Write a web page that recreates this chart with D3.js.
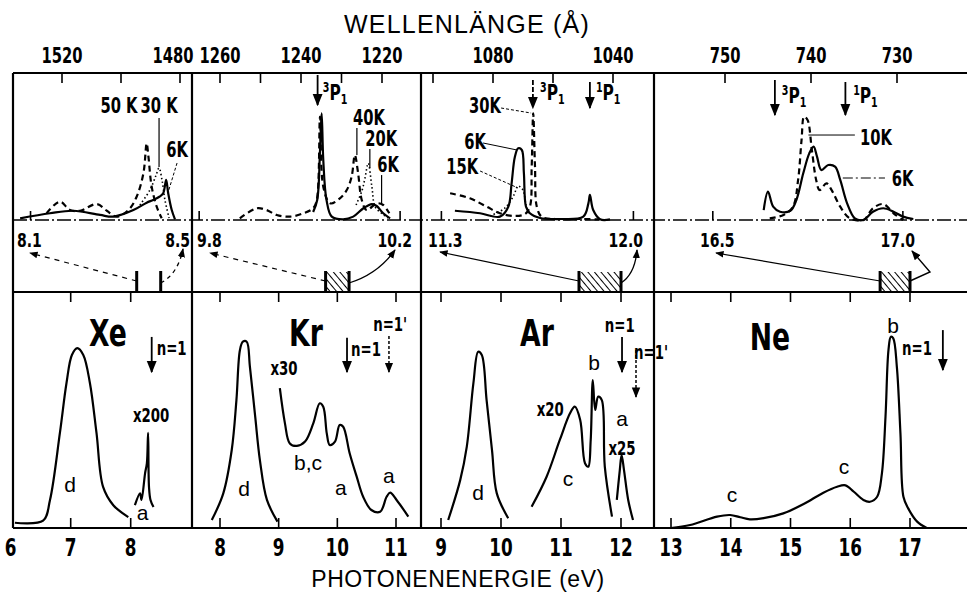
<!DOCTYPE html>
<html>
<head>
<meta charset="utf-8">
<script src="https://cdn.jsdelivr.net/npm/d3@7"></script>
<style>
body { margin: 0; background: #fff; }
svg { display: block; }
.cond { font-family: "Liberation Sans Narrow", "DejaVu Sans Condensed", "Arial Narrow", sans-serif; font-weight: bold; }
.plain { font-family: "Liberation Sans", "DejaVu Sans", sans-serif; }
</style>
</head>
<body>
<svg id="chart" width="967" height="593"></svg>
<script>
// ---- data: bottom panels, photon energy (eV) vs relative intensity ----
const xeD = [[6.07,0.023],[6.54,0.032],[6.655,0.123],[6.82,0.417],[6.93,0.636],[7.02,0.759],[7.11,0.789],[7.21,0.759],[7.32,0.636],[7.43,0.417],[7.54,0.18],[7.71,0.10],[7.96,0.048]];
const xeA = [[8.07,0.10],[8.155,0.152],[8.18,0.123],[8.24,0.241],[8.27,0.285],[8.29,0.417],[8.305,0.18],[8.33,0.123],[8.38,0.092]];
const krD = [[7.86,0.035],[8.056,0.152],[8.2,0.342],[8.28,0.561],[8.34,0.781],[8.39,0.817],[8.455,0.817],[8.51,0.707],[8.6,0.488],[8.68,0.298],[8.8,0.123],[8.98,0.028]];
const krX30 = [[9.02,0.613],[9.107,0.459],[9.19,0.371],[9.31,0.36],[9.45,0.379],[9.59,0.459],[9.70,0.547],[9.76,0.532],[9.82,0.415],[9.87,0.364],[9.96,0.379],[10.04,0.452],[10.1,0.444],[10.21,0.328],[10.33,0.225],[10.44,0.137],[10.58,0.079],[10.73,0.071],[10.84,0.137],[10.9,0.155],[11.01,0.123],[11.21,0.05]];
const arD = [[9.12,0.035],[9.32,0.21],[9.43,0.357],[9.54,0.635],[9.62,0.773],[9.68,0.759],[9.76,0.561],[9.85,0.342],[9.93,0.152],[10.12,0.043]];
const arX20 = [[10.51,0.093],[10.76,0.225],[10.98,0.386],[11.15,0.503],[11.23,0.532],[11.32,0.474],[11.4,0.284],[11.455,0.269],[11.495,0.386],[11.53,0.649],[11.57,0.518],[11.62,0.576],[11.68,0.561],[11.73,0.269],[11.85,0.05]];
const arX25 = [[11.93,0.123],[11.98,0.254],[12.01,0.32],[12.05,0.254],[12.12,0.123],[12.2,0.035]];
const neBC = [[13.0,0.0],[13.32,0.013],[13.77,0.05],[13.99,0.057],[14.16,0.047],[14.32,0.038],[14.55,0.043],[14.88,0.064],[15.22,0.105],[15.55,0.155],[15.78,0.181],[15.92,0.187],[16.06,0.159],[16.22,0.123],[16.33,0.115],[16.45,0.137],[16.53,0.24],[16.59,0.488],[16.64,0.781],[16.68,0.839],[16.72,0.832],[16.78,0.707],[16.84,0.415],[16.89,0.137],[16.97,0.086],[17.12,0.028],[17.28,0.0]];

// ---- data: top panels, wavelength (Å) vs relative intensity ----
const xe50K = [[1525.2,0.048],[1520.7,0.131],[1517.3,0.071],[1513.9,0.066],[1508.2,0.114],[1504.8,0.066],[1501.5,0.024],[1497.5,0.071],[1494.7,0.166],[1492.4,0.334],[1491.3,0.548],[1490.7,0.452],[1489.6,0.238],[1487.9,0.095],[1486.2,0.012]];
const xe30K = [[1493.6,0.107],[1490.2,0.214],[1488.1,0.321],[1487.1,0.371],[1486.1,0.286],[1485.1,0.143],[1483.7,0.014]];
const xe6K = [[1534.2,0.012],[1524.1,0.048],[1516.2,0.066],[1507.1,0.036],[1502.6,0.024],[1495.8,0.071],[1491.3,0.124],[1489.1,0.143],[1487.0,0.166],[1485.7,0.191],[1484.7,0.286],[1484.0,0.191],[1482.8,0.071],[1481.7,0.005]];
const kr40K = [[1255.1,0.012],[1250.9,0.084],[1248.5,0.071],[1246.0,0.036],[1242.7,0.024],[1239.4,0.048],[1237.0,0.084],[1236.1,0.143],[1235.3,0.738],[1234.5,0.238],[1232.8,0.119],[1230.4,0.155],[1228.7,0.214],[1227.5,0.309],[1226.7,0.464],[1225.9,0.334],[1225.0,0.143],[1223.8,0.071],[1221.3,0.119],[1219.7,0.107],[1218.2,0.048]];
const kr20K = [[1226.4,0.107],[1224.9,0.214],[1224.2,0.3],[1223.4,0.405],[1222.5,0.238],[1221.7,0.095],[1220.1,0.048],[1218.5,0.014]];
const kr6K = [[1237.0,0.057],[1236.0,0.143],[1235.3,0.5],[1234.9,0.762],[1234.5,0.429],[1233.7,0.143],[1232.4,0.024],[1229.6,0.005],[1227.1,0.024],[1224.6,0.084],[1222.5,0.114],[1221.3,0.1],[1219.7,0.048],[1218.0,0.012]];
const ar30K = [[1094.3,0.191],[1087.7,0.155],[1082.1,0.095],[1077.7,0.048],[1072.7,0.029],[1069.3,0.043],[1067.7,0.095],[1067.1,0.381],[1066.6,0.762],[1066.0,0.381],[1065.4,0.095],[1063.8,0.024],[1059.3,0.007],[1051.0,0.007],[1044.3,0.004]];
const ar15K = [[1081,0.029],[1076,0.086],[1073,0.179],[1071.7,0.243],[1070,0.214],[1069,0.107],[1067.7,0.036]];
const ar6K = [[1092.7,0.066],[1084.3,0.048],[1077.7,0.024],[1074.9,0.095],[1073.8,0.262],[1072.7,0.452],[1071.6,0.512],[1070.4,0.5],[1069.7,0.334],[1069.0,0.095],[1067.7,0.048],[1064.3,0.014],[1057.7,0.007],[1049.9,0.024],[1048.2,0.119],[1047.7,0.179],[1046.6,0.071],[1044.3,0.005],[1041.0,0.004]];
const ne10K = [[744.8,0.012],[743.2,0.036],[742.1,0.095],[741.5,0.286],[741.1,0.571],[740.8,0.738],[740.4,0.714],[739.9,0.5],[739.4,0.286],[739.0,0.214],[738.2,0.262],[737.6,0.214],[736.6,0.095],[735.5,0.012],[733.9,0.0],[732.8,0.084],[731.6,0.114],[730.4,0.048],[729.3,0.0]];
const ne6K = [[745.5,0.071],[745.0,0.202],[744.4,0.095],[743.6,0.059],[742.4,0.066],[741.7,0.143],[740.9,0.334],[740.2,0.476],[739.7,0.524],[739.3,0.452],[738.8,0.357],[738.0,0.393],[737.2,0.381],[736.6,0.286],[735.8,0.119],[734.9,0.012],[733.9,0.0],[732.8,0.059],[731.6,0.084],[730.4,0.059],[729.3,0.024],[728.1,0.007]];

// ---- ticks and zoom ranges ----
const xeEnergyTicks = [6, 7, 8], krEnergyTicks = [8, 9, 10, 11], arEnergyTicks = [9, 10, 11, 12], neEnergyTicks = [13, 14, 15, 16, 17];
const xeWaveTicks = [1520, 1500, 1480], krWaveTicks = [1260, 1250, 1240, 1230, 1220], arWaveTicks = [1100, 1080, 1060, 1040], neWaveTicks = [750, 740, 730];
const xeWaveLabels = [1520, 1480], krWaveLabels = [1260, 1240, 1220], arWaveLabels = [1080, 1040], neWaveLabels = [750, 740, 730];
const xeZoom = [8.1, 8.5], krZoom = [9.8, 10.2], arZoom = [11.3, 12.0], neZoom = [16.5, 17.0];
const zoomLabels = [["8.1", "8.5"], ["9.8", "10.2"], ["11.3", "12.0"], ["16.5", "17.0"]];

const svg = d3.select("#chart");
const L = 13, R = 967, T = 73, MID = 220, STRIP = 292, BASE = 528;
const HC = 12398.4; // eV * Angstrom
const NARROW = 0.78; // squeeze for the condensed bold lettering

const yTop = d3.scaleLinear().domain([0, 1]).range([MID, 80]);
const yBot = d3.scaleLinear().domain([0, 1]).range([BASE, 300]);

const defs = svg.append("defs");
defs.append("marker").attr("id", "head").attr("viewBox", "0 0 10 10")
  .attr("refX", 9).attr("refY", 5).attr("markerWidth", 7).attr("markerHeight", 7)
  .attr("orient", "auto-start-reverse")
  .append("path").attr("d", "M0,1 L10,5 L0,9 Z").attr("fill", "#000");
const pat = defs.append("pattern").attr("id", "hatch").attr("patternUnits", "userSpaceOnUse")
  .attr("width", 5).attr("height", 5).attr("patternTransform", "rotate(-40)");
pat.append("line").attr("x1", 0).attr("y1", 0).attr("x2", 0).attr("y2", 5)
  .attr("stroke", "#000").attr("stroke-width", 2);

const panels = [
  { gas: "Xe", x0: L, x1: 192,
    ex: d3.scaleLinear().domain([7, 8]).range([70.7, 130.7]),
    wx: d3.scaleLinear().domain([1520, 1480]).range([62, 180]),
    eTicks: xeEnergyTicks, wTicks: xeWaveTicks, wLabels: xeWaveLabels, zoom: xeZoom,
    bottom: [xeD, xeA],
    top: [{ d: xe6K }, { d: xe50K, dash: "6,4" }, { d: xe30K, dash: "1.5,2.5", w: 1.6 }],
    strip: { lx: 17, rx: 190, le: [30, 253], re: [183, 249], hatch: false, faint: true } },
  { gas: "Kr", x0: 192, x1: 421,
    ex: d3.scaleLinear().domain([8, 11]).range([220, 396]),
    wx: d3.scaleLinear().domain([1260, 1220]).range([220, 382]),
    eTicks: krEnergyTicks, wTicks: krWaveTicks, wLabels: krWaveLabels, zoom: krZoom,
    bottom: [krD, krX30],
    top: [{ d: kr40K, dash: "6,4" }, { d: kr20K, dash: "1.5,2.5", w: 1.6 }, { d: kr6K }],
    strip: { lx: 197, rx: 412, le: [210, 253], re: [395, 250], hatch: true, faint: true } },
  { gas: "Ar", x0: 421, x1: 654,
    ex: d3.scaleLinear().domain([9, 12]).range([441, 621]),
    wx: d3.scaleLinear().domain([1080, 1040]).range([493, 613]),
    eTicks: arEnergyTicks, wTicks: arWaveTicks, wLabels: arWaveLabels, zoom: arZoom,
    bottom: [arD, arX20, arX25],
    top: [{ d: ar30K, dash: "6,4" }, { d: ar15K, dash: "1.5,2.5", w: 1.6 }, { d: ar6K }],
    strip: { lx: 428, rx: 643, le: [440, 252], re: [637, 250], hatch: true } },
  { gas: "Ne", x0: 654, x1: R,
    ex: d3.scaleLinear().domain([13, 17]).range([671, 910]),
    wx: d3.scaleLinear().domain([750, 730]).range([725, 897]),
    eTicks: neEnergyTicks, wTicks: neWaveTicks, wLabels: neWaveLabels, zoom: neZoom,
    bottom: [neBC],
    top: [{ d: ne10K, dash: "6,4" }, { d: ne6K }],
    strip: { lx: 700, rx: 915, le: [716, 253], re: [912, 251], elbow: [930, 272], hatch: true } }
];

const curve = d3.curveCatmullRom.alpha(0.5);

function label(x, y, s, size, anchor, cls) {
  const t = svg.append("text").attr("class", cls || "cond")
    .attr("font-size", size).attr("text-anchor", anchor || "middle").text(s);
  if ((cls || "cond") === "cond") {
    t.attr("x", 0).attr("y", 0).attr("transform", `translate(${x},${y}) scale(${NARROW},1)`);
  } else {
    t.attr("x", x).attr("y", y);
  }
  return t;
}
function seg(x1, y1, x2, y2, w, dash, arrow) {
  const l = svg.append("line").attr("x1", x1).attr("y1", y1).attr("x2", x2).attr("y2", y2)
    .attr("stroke", "#000").attr("stroke-width", w || 1.2);
  if (dash) l.attr("stroke-dasharray", dash);
  if (arrow) l.attr("marker-end", "url(#head)");
  return l;
}
function term(x, y, level, size) {
  // ^3P_1 style spectroscopic term
  const t = svg.append("text").attr("class", "cond").attr("x", 0).attr("y", 0)
    .attr("transform", `translate(${x},${y}) scale(${NARROW},1)`).attr("font-size", size);
  t.append("tspan").attr("font-size", size * 0.62).attr("dy", -size * 0.38).text(level);
  t.append("tspan").attr("dy", size * 0.38).text("P");
  t.append("tspan").attr("font-size", size * 0.62).attr("dy", size * 0.2).text("1");
}

panels.forEach((p, idx) => {
  // bottom spectra
  const lb = d3.line().x(d => p.ex(d[0])).y(d => yBot(d[1])).curve(curve);
  p.bottom.forEach(d => {
    svg.append("path").attr("d", lb(d)).attr("fill", "none")
      .attr("stroke", "#000").attr("stroke-width", 2.2);
  });
  // top spectra
  const lt = d3.line().x(d => p.wx(d[0])).y(d => yTop(d[1])).curve(curve);
  p.top.forEach(c => {
    const path = svg.append("path").attr("d", lt(c.d)).attr("fill", "none")
      .attr("stroke", "#000").attr("stroke-width", c.w || 2.2);
    if (c.dash) path.attr("stroke-dasharray", c.dash);
  });

  // energy ticks: bottom axis (up) and strip baseline (down)
  p.eTicks.forEach(v => {
    const x = p.ex(v);
    if (x > p.x0 + 2) {
      seg(x, BASE, x, BASE - 10, 1.6);
      seg(x, STRIP, x, STRIP + 10, 1.6);
    }
    label(x, 556, String(v), 24);
  });
  // wavelength ticks on top border; labels kept clear of the dividers
  p.wTicks.forEach(v => seg(p.wx(v), T, p.wx(v), T + 10, 1.6));
  p.wLabels.forEach(v => label(Math.max(p.x0 + 22, Math.min(p.x1 - 19, p.wx(v))), 63, String(v), 21));

  // zoom window marks on top baseline
  p.zoom.forEach(e => {
    const x = p.wx(HC / e);
    if (x > p.x0 + 2 && x < p.x1 - 2) seg(x, MID, x, MID - 9, 1.6);
  });

  // zoom window on the strip
  const xa = p.ex(p.zoom[0]), xb = p.ex(p.zoom[1]);
  if (p.strip.hatch) {
    svg.append("rect").attr("x", xa).attr("y", STRIP - 20).attr("width", xb - xa).attr("height", 20)
      .attr("fill", "url(#hatch)");
  }
  seg(xa, STRIP - 21, xa, STRIP, 3);
  seg(xb, STRIP - 21, xb, STRIP, 3);
  label(p.strip.lx, 247, zoomLabels[idx][0], 20, "start");
  label(p.strip.rx, 247, zoomLabels[idx][1], 20, "end");
  const dash = p.strip.faint ? "5,5" : null;
  seg(xa, STRIP - 11, p.strip.le[0], p.strip.le[1], 1.2, dash, true);
  if (p.strip.elbow) {
    svg.append("path")
      .attr("d", `M${xb},${STRIP - 11}L${p.strip.elbow[0]},${p.strip.elbow[1]}L${p.strip.re[0]},${p.strip.re[1]}`)
      .attr("fill", "none").attr("stroke", "#000").attr("stroke-width", 1.4).attr("marker-end", "url(#head)");
  } else {
    svg.append("path")
      .attr("d", `M${xb},${STRIP - 9}Q${(xb + p.strip.re[0]) / 2 + 6},${STRIP - 18} ${p.strip.re[0]},${p.strip.re[1]}`)
      .attr("fill", "none").attr("stroke", "#000").attr("stroke-width", 1.3)
      .attr("stroke-dasharray", p.gas === "Xe" ? "4,4" : null).attr("marker-end", "url(#head)");
  }
});

// frame
seg(L, T, R, T, 2);
seg(L, T, L, BASE, 2.2);
[192, 421, 654].forEach(x => seg(x, T, x, BASE, 2.2));
seg(L, MID, R, MID, 1.6, "14,3,2,3");
seg(L, STRIP, R, STRIP, 1.8);
seg(L, BASE, R, BASE, 2);

// ---- annotations (data coordinates) ----
const [xe, kr, ar, ne] = panels;
const big = 38, mid = 19, let_ = 21;

// Xe
label(xe.ex(7.62), yBot(0.80), "Xe", big);
label(xe.ex(6.99), yBot(0.158), "d", let_, "middle", "plain");
label(xe.ex(8.2), yBot(0.035), "a", let_, "middle", "plain");
label(xe.ex(8.34), yBot(0.465), "x200", mid);
seg(xe.ex(8.35), yBot(0.838), xe.ex(8.35), yBot(0.684), 1.8, null, true);
label(xe.ex(8.35) + 5, yBot(0.759), "n=1", mid, "start");
label(xe.wx(1500.7), yTop(0.764), "50 K", 21);
label(xe.wx(1487.1), yTop(0.764), "30 K", 21);
seg(xe.wx(1487.1), yTop(0.729), xe.wx(1487.1), yTop(0.379), 1.2);
label(xe.wx(1481), yTop(0.45), "6K", 21);
seg(xe.wx(1481), yTop(0.407), xe.wx(1484.1), yTop(0.193), 1, "3,2");

// Kr
label(kr.ex(9.466), yBot(0.80), "Kr", big);
label(kr.ex(8.41), yBot(0.14), "d", let_, "middle", "plain");
label(kr.ex(9.09), yBot(0.671), "x30", mid);
label(kr.ex(9.5), yBot(0.254), "b,c", let_, "middle", "plain");
label(kr.ex(10.06), yBot(0.145), "a", let_, "middle", "plain");
label(kr.ex(10.88), yBot(0.197), "a", let_, "middle", "plain");
seg(kr.ex(10.165), yBot(0.834), kr.ex(10.165), yBot(0.684), 1.8, null, true);
label(kr.ex(10.165) + 4, yBot(0.754), "n=1", mid, "start");
seg(kr.ex(10.88), yBot(0.842), kr.ex(10.88), yBot(0.684), 1.5, "3,2", true);
label(kr.ex(10.9), yBot(0.864), "n=1'", mid);
seg(kr.wx(1235.9), T + 2, kr.wx(1235.9), yTop(0.821), 1.8, null, true);
term(kr.wx(1234.6), yTop(0.857), "3", 22);
label(kr.wx(1223.2), yTop(0.679), "40K", 21);
seg(kr.wx(1226.2), yTop(0.657), kr.wx(1226.2), yTop(0.464), 1.2);
label(kr.wx(1220.2), yTop(0.529), "20K", 21);
seg(kr.wx(1223), yTop(0.507), kr.wx(1223), yTop(0.371), 1.2);
label(kr.wx(1218.5), yTop(0.343), "6K", 21);
seg(kr.wx(1220.1), yTop(0.321), kr.wx(1220.1), yTop(0.107), 1.2);

// Ar
label(ar.ex(10.6), yBot(0.80), "Ar", big);
label(ar.ex(9.617), yBot(0.123), "d", let_, "middle", "plain");
label(ar.ex(11.117), yBot(0.184), "c", let_, "middle", "plain");
label(ar.ex(11.55), yBot(0.693), "b", let_, "middle", "plain");
label(ar.ex(10.82), yBot(0.491), "x20", mid);
label(ar.ex(12.017), yBot(0.447), "a", let_, "middle", "plain");
label(ar.ex(12.017), yBot(0.32), "x25", mid);
label(ar.ex(11.98), yBot(0.86), "n=1", mid);
seg(ar.ex(12.017), yBot(0.838), ar.ex(12.017), yBot(0.684), 1.8, null, true);
label(ar.ex(12.217), yBot(0.741), "n=1'", mid, "start");
seg(ar.ex(12.25), yBot(0.781), ar.ex(12.25), yBot(0.575), 1.5, "3,2", true);
seg(ar.wx(1066.7), T + 7, ar.wx(1066.7), yTop(0.80), 1.8, "5,2", true);
term(ar.wx(1064.3), yTop(0.857), "3", 22);
seg(ar.wx(1047.7), T + 9, ar.wx(1047.7), yTop(0.80), 1.8, null, true);
term(ar.wx(1045.7), yTop(0.857), "1", 22);
label(ar.wx(1082.7), yTop(0.764), "30K", 21);
seg(ar.wx(1077.3), yTop(0.80), ar.wx(1067.3), yTop(0.764), 1, "3,2");
label(ar.wx(1086), yTop(0.507), "6K", 21);
seg(ar.wx(1083.3), yTop(0.55), ar.wx(1072), yTop(0.5), 1);
label(ar.wx(1090.3), yTop(0.329), "15K", 21);
seg(ar.wx(1084.3), yTop(0.35), ar.wx(1071.7), yTop(0.229), 1, "3,2");

// Ne
label(ne.ex(14.657), yBot(0.781), "Ne", big);
label(ne.ex(14.02), yBot(0.114), "c", let_, "middle", "plain");
label(ne.ex(15.895), yBot(0.237), "c", let_, "middle", "plain");
label(ne.ex(16.715), yBot(0.855), "b", let_, "middle", "plain");
label(ne.ex(16.866), yBot(0.759), "n=1", mid, "start");
seg(ne.ex(17.55), yBot(0.868), ne.ex(17.55), yBot(0.693), 1.8, null, true);
seg(ne.wx(744.2), T + 7, ne.wx(744.2), yTop(0.75), 1.8, null, true);
term(ne.wx(743.4), yTop(0.836), "3", 22);
seg(ne.wx(736.0), T + 9, ne.wx(736.0), yTop(0.75), 1.8, null, true);
term(ne.wx(735.1), yTop(0.836), "1", 22);
label(ne.wx(734.3), yTop(0.536), "10K", 21, "start");
seg(ne.wx(740.3), yTop(0.607), ne.wx(734.9), yTop(0.607), 1);
label(ne.wx(730.6), yTop(0.243), "6K", 21, "start");
seg(ne.wx(736.3), yTop(0.30), ne.wx(731.4), yTop(0.30), 1, "10,3,2,3");

// axis titles
label(467, 33, "WELLENLÄNGE (Å)", 25, "middle", "plain").attr("letter-spacing", 1.2);
label(458, 587, "PHOTONENENERGIE (eV)", 23, "middle", "plain").attr("letter-spacing", 0.5);
</script>
</body>
</html>
